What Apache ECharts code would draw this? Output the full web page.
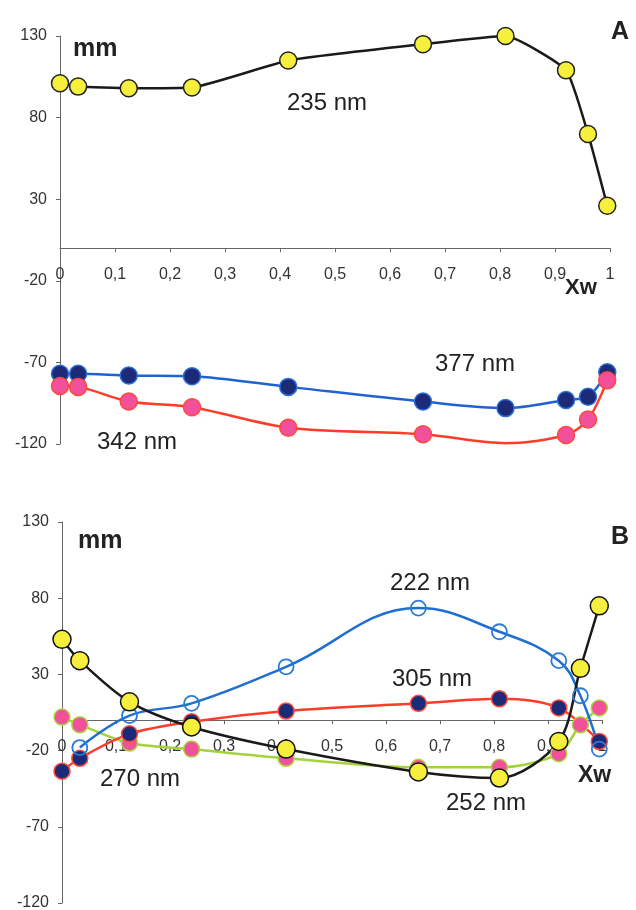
<!DOCTYPE html>
<html>
<head>
<meta charset="utf-8">
<script src="https://cdn.jsdelivr.net/npm/echarts@6/dist/echarts.min.js"></script>
<style>
html,body{margin:0;padding:0;background:#fff;}
#chart{width:636px;height:910px;}
</style>
</head>
<body>
<div id="chart"></div>
<script>
// ---- Data (panel A) ----
var xA = [0, 0.033, 0.125, 0.24, 0.415, 0.66, 0.81, 0.92, 0.96, 0.995];
var nm235 = [101, 99, 98, 98.5, 115, 125, 130, 109, 70, 26];
var nm377 = [-77, -77, -78, -78.5, -85, -94, -98, -93, -91, -76];
var nm342 = [-84.5, -85, -94, -97.5, -110, -114, -119.5, -114.5, -105, -81];
// ---- Data (panel B) ----
var xB = [0, 0.033, 0.125, 0.24, 0.415, 0.66, 0.81, 0.92, 0.96, 0.995];
var nm252 = [53, 39, 12, -4.5, -19, -34, -38, -14, 34, 75];
var nm222 = [null, -18, 3, 11, 35, 73.5, 58, 39, 16, -19];
var nm305 = [-33.5, -25, -9, -1, 6, 11, 14, 8, null, -14];
var nm270 = [2, -3, -15, -19, -25, -31, -31, -22, -3, 8];
// axis ticks
var yMin = -120, yMax = 130, yStep = 50;
var xMin = 0, xMax = 1, xStep = 0.1;

function pairs(xs, ys, hidden) {
  var out = [];
  for (var i = 0; i < xs.length; i++) {
    if (ys[i] === null) continue;
    if (hidden && hidden.indexOf(i) >= 0) {
      out.push({value: [xs[i], ys[i]], symbol: 'none'});
    } else {
      out.push([xs[i], ys[i]]);
    }
  }
  return out;
}

var FONT = 'Liberation Sans, Arial, sans-serif';
var GRIDS = [
  {left: 60, width: 550, top: 36, height: 408, outerBoundsMode: 'none', containLabel: false},
  {left: 62, width: 540, top: 522, height: 381, outerBoundsMode: 'none', containLabel: false}
];

function xAxisCfg(idx) {
  // place the x axis where y = 0 crosses (computed from the y scale)
  var h = GRIDS[idx].height;
  var zeroFromBottom = (0 - yMin) / (yMax - yMin) * h;
  return {
    type: 'value', gridIndex: idx, min: xMin, max: xMax, interval: xStep,
    position: 'bottom', offset: -zeroFromBottom,
    axisLine: {show: true, onZero: false, lineStyle: {color: '#666', width: 1}},
    axisTick: {show: true, length: 4, lineStyle: {color: '#666'}},
    splitLine: {show: false},
    axisLabel: {
      margin: 18, fontSize: 16, color: '#333', fontFamily: FONT,
      formatter: function (v) { return String(+v.toFixed(1)).replace('.', ','); }
    }
  };
}
function yAxisCfg(idx) {
  return {
    type: 'value', gridIndex: idx, min: yMin, max: yMax, interval: yStep,
    axisLine: {show: true, onZero: false, lineStyle: {color: '#666', width: 1}},
    axisTick: {show: true, length: 4, lineStyle: {color: '#666'}},
    splitLine: {show: false},
    axisLabel: {margin: 13, fontSize: 16, color: '#333', fontFamily: FONT}
  };
}

function filled(name, xi, data, lineColor, fill, edge, smooth, size) {
  return {
    name: name, type: 'line', xAxisIndex: xi, yAxisIndex: xi, data: data,
    smooth: smooth, symbol: 'circle', symbolSize: size || 16,
    lineStyle: {color: lineColor, width: 2.5},
    itemStyle: {color: fill, borderColor: edge, borderWidth: 1.5},
    emphasis: {disabled: true}, animation: false
  };
}

function txt(x, y, s, size, bold) {
  return {
    type: 'text', x: x, y: y, z: 100,
    style: {text: s, fontSize: size, fontWeight: bold ? 'bold' : 'normal',
      fontFamily: FONT, fill: '#222', verticalAlign: 'middle', textVerticalAlign: 'middle', align: 'left'}
  };
}

var chart = echarts.init(document.getElementById('chart'), null, {renderer: 'canvas'});
chart.setOption({
  backgroundColor: '#fff',
  animation: false,
  grid: GRIDS,
  xAxis: [xAxisCfg(0), xAxisCfg(1)],
  yAxis: [yAxisCfg(0), yAxisCfg(1)],
  series: [
    filled('235 nm', 0, pairs(xA, nm235), '#1a1a1a', '#f6ef3c', '#222', 0.15, 17),
    filled('377 nm', 0, pairs(xA, nm377), '#1f62d0', '#1c2a78', '#2a6fd6', 0.3, 17),
    filled('342 nm', 0, pairs(xA, nm342, [6]), '#ff3b2a', '#f2509a', '#ff4a3a', 0.3, 17),
    filled('270 nm', 1, pairs(xB, nm270), '#a4d23a', '#f2509a', '#a8d640', 0.3, 16),
    filled('305 nm', 1, pairs(xB, nm305), '#ff3b2a', '#1c2a78', '#ff4a3a', 0.3, 16),
    {
      name: '222 nm', type: 'line', xAxisIndex: 1, yAxisIndex: 1, data: pairs(xB, nm222),
      smooth: 0.4, symbol: 'circle', symbolSize: 15,
      lineStyle: {color: '#1f6fd0', width: 2.5},
      itemStyle: {color: 'rgba(255,255,255,0)', borderColor: '#2a7ad6', borderWidth: 1.8},
      emphasis: {disabled: true}
    },
    filled('252 nm', 1, pairs(xB, nm252), '#1a1a1a', '#f6ef3c', '#111', 0.3, 18)
  ],
  graphic: [
    txt(73, 49, 'mm', 25, true),
    txt(611, 32, 'A', 25, true),
    txt(287, 103, '235 nm', 24, false),
    txt(435, 364, '377 nm', 24, false),
    txt(97, 442, '342 nm', 24, false),
    txt(565, 288, 'Xw', 22, true),
    txt(78, 541, 'mm', 25, true),
    txt(611, 537, 'B', 25, true),
    txt(390, 583, '222 nm', 24, false),
    txt(392, 679, '305 nm', 24, false),
    txt(100, 779, '270 nm', 24, false),
    txt(446, 803, '252 nm', 24, false),
    txt(578, 776, 'Xw', 23, true)
  ]
});
</script>
</body>
</html>
